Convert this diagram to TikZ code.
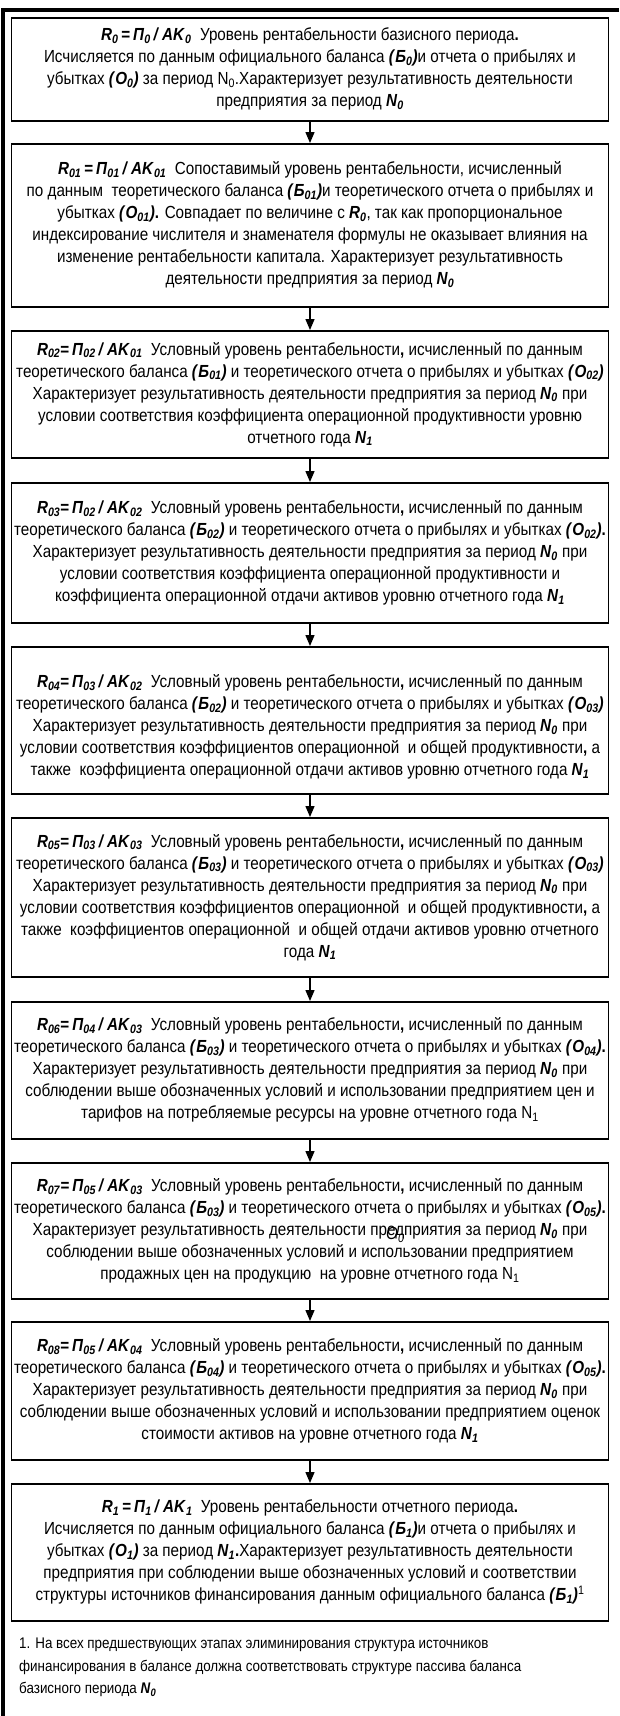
\documentclass[tikz,border=0pt]{standalone}
\usepackage{fontspec}
\setmainfont{Liberation Sans}[FakeStretch=0.87]
\usetikzlibrary{arrows.meta}
\newcommand{\rvar}[2]{\textbf{\textit{#1}\textsubscript{\textit{#2}}}}
\newcommand{\rsub}[2]{#1\textsubscript{#2}}

\tikzset{
  stage/.style={draw, line width=1.6pt, minimum width=597pt, inner sep=1pt,
    align=center, anchor=north, font=\fontsize{17.5}{22}\selectfont},
  flow/.style={line width=1.3pt, -{Triangle[length=11pt,width=9pt]}},
}

\begin{document}
\begin{tikzpicture}[x=1pt,y=-1pt]
\useasboundingbox (0,0) rectangle (619,1716);
% outer frame
\draw[line width=4pt] (2.5,1716) -- (2.5,10) -- (619,10);

\node[stage, minimum height=103pt] (r0) at (310,17)
  {\rvar{R}{0}\,\textbf{=}\,\rvar{П}{0}\,\textbf{\textit{/}}\,\rvar{AK}{0}\ \ Уровень рентабельности базисного периода\textbf{.}\\
   Исчисляется по данным официального баланса \textbf{\textit{(}}\rvar{Б}{0}\textbf{\textit{)}}и отчета о прибылях и\\
   убытках \textbf{\textit{(}}\rvar{О}{0}\textbf{\textit{)}} за период \rsub{N}{0}.Характеризует результативность деятельности\\
   предприятия за период \rvar{N}{0}};

\node[stage, minimum height=163pt] (r01) at (310,143)
  {\rvar{R}{01}\,\textbf{=}\,\rvar{П}{01}\,\textbf{\textit{/}}\,\rvar{AK}{01}\ \ Сопоставимый уровень рентабельности, исчисленный\\
   по данным\ \ теоретического баланса \textbf{\textit{(}}\rvar{Б}{01}\textbf{\textit{)}}и теоретического отчета о прибылях и\\
   убытках \textbf{\textit{(}}\rvar{О}{01}\textbf{\textit{)}}\textbf{.} Совпадает по величине с \rvar{R}{0}, так как пропорциональное\\
   индексирование числителя и знаменателя формулы не оказывает влияния на\\
   изменение рентабельности капитала. Характеризует результативность\\
   деятельности предприятия за период \rvar{N}{0}};

\node[stage, minimum height=127pt] (r02) at (310,330)
  {\rvar{R}{02}\textbf{=}\,\rvar{П}{02}\,\textbf{\textit{/}}\,\rvar{AK}{01}\ \ Условный уровень рентабельности\textbf{,} исчисленный по данным\\
   теоретического баланса \textbf{\textit{(}}\rvar{Б}{01}\textbf{\textit{)}} и теоретического отчета о прибылях и убытках \textbf{\textit{(}}\rvar{О}{02}\textbf{\textit{)}}\\
   Характеризует результативность деятельности предприятия за период \rvar{N}{0} при\\
   условии соответствия коэффициента операционной продуктивности уровню\\
   отчетного года \rvar{N}{1}};

\node[stage, minimum height=140pt] (r03) at (310,482)
  {\rvar{R}{03}\textbf{=}\,\rvar{П}{02}\,\textbf{\textit{/}}\,\rvar{AK}{02}\ \ Условный уровень рентабельности\textbf{,} исчисленный по данным\\
   теоретического баланса \textbf{\textit{(}}\rvar{Б}{02}\textbf{\textit{)}} и теоретического отчета о прибылях и убытках \textbf{\textit{(}}\rvar{О}{02}\textbf{\textit{)}}\textbf{.}\\
   Характеризует результативность деятельности предприятия за период \rvar{N}{0} при\\
   условии соответствия коэффициента операционной продуктивности и\\
   коэффициента операционной отдачи активов уровню отчетного года \rvar{N}{1}};

\node[stage, minimum height=147pt] (r04) at (310,646)
  {\rule{0pt}{26pt}\rvar{R}{04}\textbf{=}\,\rvar{П}{03}\,\textbf{\textit{/}}\,\rvar{AK}{02}\ \ Условный уровень рентабельности\textbf{,} исчисленный по данным\\
   теоретического баланса \textbf{\textit{(}}\rvar{Б}{02}\textbf{\textit{)}} и теоретического отчета о прибылях и убытках \textbf{\textit{(}}\rvar{О}{03}\textbf{\textit{)}}\\
   Характеризует результативность деятельности предприятия за период \rvar{N}{0} при\\
   условии соответствия коэффициентов операционной\ \ и общей продуктивности\textbf{,} а\\
   также\ \ коэффициента операционной отдачи активов уровню отчетного года \rvar{N}{1}};

\node[stage, minimum height=159pt] (r05) at (310,817)
  {\rvar{R}{05}\textbf{=}\,\rvar{П}{03}\,\textbf{\textit{/}}\,\rvar{AK}{03}\ \ Условный уровень рентабельности\textbf{,} исчисленный по данным\\
   теоретического баланса \textbf{\textit{(}}\rvar{Б}{03}\textbf{\textit{)}} и теоретического отчета о прибылях и убытках \textbf{\textit{(}}\rvar{О}{03}\textbf{\textit{)}}\\
   Характеризует результативность деятельности предприятия за период \rvar{N}{0} при\\
   условии соответствия коэффициентов операционной\ \ и общей продуктивности\textbf{,} а\\
   также\ \ коэффициентов операционной\ \ и общей отдачи активов уровню отчетного\\
   года \rvar{N}{1}};

\node[stage, minimum height=137pt] (r06) at (310,1001)
  {\rvar{R}{06}\textbf{=}\,\rvar{П}{04}\,\textbf{\textit{/}}\,\rvar{AK}{03}\ \ Условный уровень рентабельности\textbf{,} исчисленный по данным\\
   теоретического баланса \textbf{\textit{(}}\rvar{Б}{03}\textbf{\textit{)}} и теоретического отчета о прибылях и убытках \textbf{\textit{(}}\rvar{О}{04}\textbf{\textit{)}}\textbf{.}\\
   Характеризует результативность деятельности предприятия за период \rvar{N}{0} при\\
   соблюдении выше обозначенных условий и использовании предприятием цен и\\
   тарифов на потребляемые ресурсы на уровне отчетного года \rsub{N}{1}};

% stray O_0 printed over "предприятия" in this box
\node[stage, minimum height=136pt] (r07) at (310,1162)
  {\rvar{R}{07}\textbf{=}\,\rvar{П}{05}\,\textbf{\textit{/}}\,\rvar{AK}{03}\ \ Условный уровень рентабельности\textbf{,} исчисленный по данным\\
   теоретического баланса \textbf{\textit{(}}\rvar{Б}{03}\textbf{\textit{)}} и теоретического отчета о прибылях и убытках \textbf{\textit{(}}\rvar{О}{05}\textbf{\textit{)}}\textbf{.}\\
   Характеризует результативность деятельности пр\makebox[0pt][l]{\hspace{-1pt}\raisebox{-4pt}{\textit{О}\textsubscript{\textit{0}}}}едприятия за период \rvar{N}{0} при\\
   соблюдении выше обозначенных условий и использовании предприятием\\
   продажных цен на продукцию\ \ на уровне отчетного года \rsub{N}{1}};

\node[stage, minimum height=138pt] (r08) at (310,1321)
  {\rvar{R}{08}\textbf{=}\,\rvar{П}{05}\,\textbf{\textit{/}}\,\rvar{AK}{04}\ \ Условный уровень рентабельности\textbf{,} исчисленный по данным\\
   теоретического баланса \textbf{\textit{(}}\rvar{Б}{04}\textbf{\textit{)}} и теоретического отчета о прибылях и убытках \textbf{\textit{(}}\rvar{О}{05}\textbf{\textit{)}}\textbf{.}\\
   Характеризует результативность деятельности предприятия за период \rvar{N}{0} при\\
   соблюдении выше обозначенных условий и использовании предприятием оценок\\
   стоимости активов на уровне отчетного года \rvar{N}{1}};

\node[stage, minimum height=137pt] (r1) at (310,1483)
  {\rvar{R}{1}\,\textbf{=}\,\rvar{П}{1}\,\textbf{\textit{/}}\,\rvar{AK}{1}\ \ Уровень рентабельности отчетного периода\textbf{.}\\
   Исчисляется по данным официального баланса \textbf{\textit{(}}\rvar{Б}{1}\textbf{\textit{)}}и отчета о прибылях и\\
   убытках \textbf{\textit{(}}\rvar{О}{1}\textbf{\textit{)}} за период \rvar{N}{1}\textbf{.}Характеризует результативность деятельности\\
   предприятия при соблюдении выше обозначенных условий и соответствии\\
   структуры источников финансирования данным официального баланса \textbf{\textit{(}}\rvar{Б}{1}\textbf{\textit{)}}\textsuperscript{1}};

% footnote
\node[anchor=north west, align=left, inner sep=0pt, font=\fontsize{15.4}{22.5}\selectfont] (note) at (19,1638)
  {1. На всех предшествующих этапах элиминирования структура источников\\
   финансирования в балансе должна соответствовать структуре пассива баланса\\
   базисного периода \rvar{N}{0}};

\draw[flow] (r0) -- (r01);
\draw[flow] (r01) -- (r02);
\draw[flow] (r02) -- (r03);
\draw[flow] (r03) -- (r04);
\draw[flow] (r04) -- (r05);
\draw[flow] (r05) -- (r06);
\draw[flow] (r06) -- (r07);
\draw[flow] (r07) -- (r08);
\draw[flow] (r08) -- (r1);
\end{tikzpicture}
\end{document}
